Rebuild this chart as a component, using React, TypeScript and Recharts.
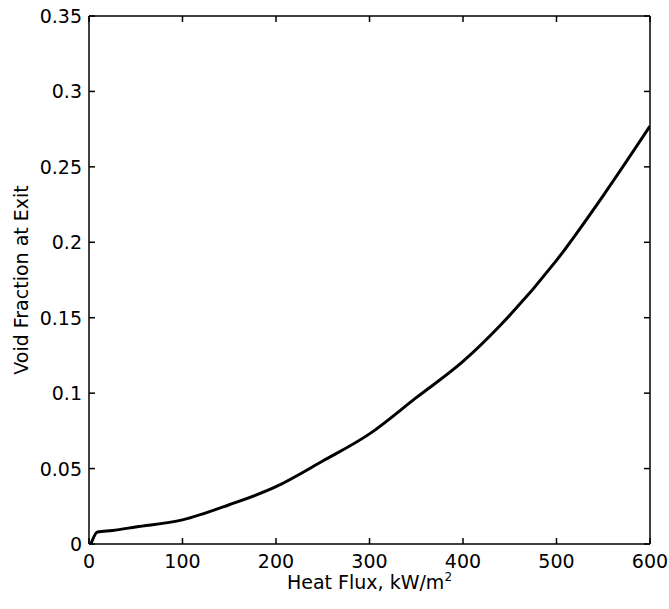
import React from "react";
import { LineChart, Line, XAxis, YAxis, ReferenceLine } from "recharts";

// heat flux (kW/m^2) and exit void fraction
const fluxValues = [2, 9, 25, 50, 100, 150, 200, 250, 300, 350, 400, 440, 500, 550, 600];
const voidValues = [0, 0.008, 0.009, 0.0113, 0.016, 0.026, 0.038, 0.055, 0.073, 0.097, 0.121, 0.145, 0.188, 0.231, 0.277];

const xTicks = [0, 100, 200, 300, 400, 500, 600];
const yTicks = [0, 0.05, 0.1, 0.15, 0.2, 0.25, 0.3, 0.35];

const xTitle = "Heat Flux, kW/m";
const xTitleSup = "2";
const yTitle = "Void Fraction at Exit";

const data = fluxValues.map((x, i) => ({ x, v: voidValues[i] }));

const X_MAX = 600;
const Y_MAX = 0.35;

const W = 669;
const H = 609;
const MARGIN = { top: 16, right: 19, bottom: 0, left: 0 };
const Y_AXIS_W = 89;
const X_AXIS_H = 65;
const PLOT_W = W - MARGIN.left - MARGIN.right - Y_AXIS_W;
const PLOT_H = H - MARGIN.top - MARGIN.bottom - X_AXIS_H;

// inward tick length (px) expressed in data units for each axis
const TICK_PX = 6;
const tickLenX = (X_MAX * TICK_PX) / PLOT_W;
const tickLenY = (Y_MAX * TICK_PX) / PLOT_H;

const FONT = "'DejaVu Sans', sans-serif";
const axisLine = { stroke: "#000", strokeWidth: 1.5 };

const fmtY = (v: number) => String(Number(v.toFixed(2)));

const BottomTick = (props: any) => {
  const { x, y, payload } = props;
  return (
    <text x={x} y={y + 24} textAnchor="middle" fontSize={19} fontFamily={FONT} fill="#000">
      {payload.value}
    </text>
  );
};

const LeftTick = (props: any) => {
  const { x, y, payload } = props;
  return (
    <text x={x - 7} y={y + 7} textAnchor="end" fontSize={19} fontFamily={FONT} fill="#000">
      {fmtY(payload.value)}
    </text>
  );
};

const XTitle = (props: any) => {
  const vb = props.viewBox || {};
  const cx = vb.x + vb.width / 2;
  return (
    <text x={cx} y={vb.y + 45} textAnchor="middle" fontSize={19} fontFamily={FONT} fill="#000">
      {xTitle}
      <tspan dy={-8} fontSize={12}>
        {xTitleSup}
      </tspan>
    </text>
  );
};

const YTitle = (props: any) => {
  const vb = props.viewBox || {};
  const cy = vb.y + vb.height / 2;
  const x = 28;
  return (
    <text
      x={x}
      y={cy}
      transform={`rotate(-90, ${x}, ${cy})`}
      textAnchor="middle"
      fontSize={19}
      fontFamily={FONT}
      fill="#000"
    >
      {yTitle}
    </text>
  );
};

const frame = { stroke: "#000", strokeWidth: 1.5, ifOverflow: "visible" as const };
const tickStroke = { stroke: "#000", strokeWidth: 1.5, ifOverflow: "visible" as const };

export default function App() {
  return (
    <div style={{ position: "absolute", left: 0, top: 0, width: W, height: H, background: "#fff" }}>
      <LineChart width={W} height={H} data={data} margin={MARGIN}>
        <XAxis
          dataKey="x"
          type="number"
          domain={[0, X_MAX]}
          ticks={xTicks}
          allowDataOverflow
          height={X_AXIS_H}
          tick={(p: any) => <BottomTick {...p} />}
          tickSize={0}
          tickMargin={0}
          tickLine={false}
          axisLine={axisLine}
          label={{ content: (p: any) => <XTitle {...p} /> }}
        />
        <YAxis
          type="number"
          domain={[0, Y_MAX]}
          ticks={yTicks}
          allowDataOverflow
          width={Y_AXIS_W}
          tick={(p: any) => <LeftTick {...p} />}
          tickSize={0}
          tickMargin={0}
          tickLine={false}
          axisLine={axisLine}
          label={{ content: (p: any) => <YTitle {...p} /> }}
        />
        {/* box frame on top and right */}
        <ReferenceLine y={Y_MAX} {...frame} />
        <ReferenceLine x={X_MAX} {...frame} />
        {/* inward ticks on all four sides */}
        {xTicks.map((t) => (
          <ReferenceLine key={`xb${t}`} segment={[{ x: t, y: 0 }, { x: t, y: tickLenY }]} {...tickStroke} />
        ))}
        {xTicks.map((t) => (
          <ReferenceLine key={`xt${t}`} segment={[{ x: t, y: Y_MAX }, { x: t, y: Y_MAX - tickLenY }]} {...tickStroke} />
        ))}
        {yTicks.map((t) => (
          <ReferenceLine key={`yl${t}`} segment={[{ x: 0, y: t }, { x: tickLenX, y: t }]} {...tickStroke} />
        ))}
        {yTicks.map((t) => (
          <ReferenceLine key={`yr${t}`} segment={[{ x: X_MAX, y: t }, { x: X_MAX - tickLenX, y: t }]} {...tickStroke} />
        ))}
        <Line
          type="monotone"
          dataKey="v"
          stroke="#000"
          strokeWidth={3}
          dot={false}
          isAnimationActive={false}
        />
      </LineChart>
    </div>
  );
}
